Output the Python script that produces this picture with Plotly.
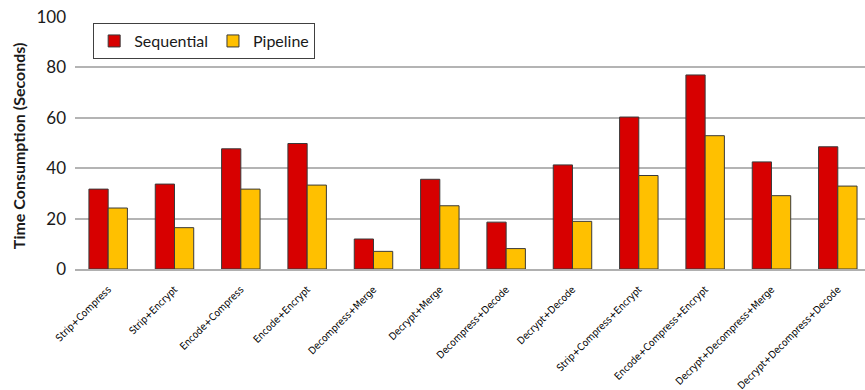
import plotly.graph_objects as go

categories = [
    "Strip+Compress", "Strip+Encrypt", "Encode+Compress", "Encode+Encrypt",
    "Decompress+Merge", "Decrypt+Merge", "Decompress+Decode", "Decrypt+Decode",
    "Strip+Compress+Encrypt", "Encode+Compress+Encrypt",
    "Decrypt+Decompress+Merge", "Decrypt+Decompress+Decode",
]
sequential = [31.7, 33.7, 47.7, 49.8, 11.9, 35.6, 18.6, 41.3, 60.3, 77.0, 42.5, 48.5]
pipeline = [24.2, 16.4, 31.7, 33.3, 7.0, 25.1, 8.1, 18.9, 37.1, 52.9, 29.1, 32.9]

y_ticks = [0, 20, 40, 60, 80, 100]

fig = go.Figure()
fig.add_trace(go.Bar(
    name="Sequential", x=categories, y=sequential,
    marker=dict(color="#d70000", line=dict(color="#3a3a3a", width=1)),
))
fig.add_trace(go.Bar(
    name="Pipeline", x=categories, y=pipeline,
    marker=dict(color="#ffc000", line=dict(color="#3a3a3a", width=1)),
))

fig.update_layout(
    width=865, height=390,
    margin=dict(l=75, r=0, t=17, b=121),
    paper_bgcolor="white", plot_bgcolor="white",
    barmode="group", bargap=0.42, bargroupgap=0,
    font=dict(family="Lato, 'Open Sans', sans-serif", color="#1a1a1a"),
    legend=dict(
        orientation="h", x=0.023, y=0.976, xanchor="left", yanchor="top",
        bgcolor="white", bordercolor="#404040", borderwidth=1,
        font=dict(size=16, family="Lato, 'Open Sans', sans-serif", color="#1a1a1a"),
        itemwidth=30,
    ),
    xaxis=dict(
        range=[-0.5, 11.41],
        tickangle=-45,
        tickfont=dict(size=10, family="'DejaVu Sans Condensed', 'DejaVu Sans', sans-serif", color="#000"),
        ticklabelstandoff=9,
        showline=True, linecolor="#b0b0b0", linewidth=1.5,
        ticks="", showgrid=False,
    ),
    yaxis=dict(
        range=[0, 100], tickvals=y_ticks,
        tickfont=dict(size=17, color="#1a1a1a"),
        showgrid=True, gridcolor="#b4b4b4", gridwidth=1.5,
        zeroline=False, showline=False, ticks="",
        ticklabelstandoff=8,
    ),
    annotations=[dict(
        text="<b>Time Consumption (Seconds)</b>",
        xref="paper", yref="paper", x=-0.072, y=0.488,
        xanchor="center", yanchor="middle", textangle=-90, showarrow=False,
        font=dict(size=16, color="#1a1a1a"),
    )],
)

fig.write_html("out.html")
